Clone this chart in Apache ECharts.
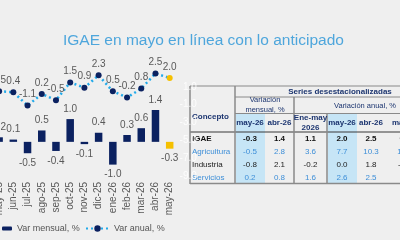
<!DOCTYPE html>
<html lang="es">
<head>
    <meta charset="UTF-8">
    <title>IGAE</title>
    <style>
        html, body { margin: 0; padding: 0; background: #efefef; overflow: hidden; }
        /* la grafica original esta recortada por la izquierda */
        #chart { position: absolute; left: -8px; top: 0; width: 408px; height: 240px; }
    </style>
    <script src="https://cdn.jsdelivr.net/npm/echarts@6/dist/echarts.min.js"></script>
</head>
<body>
<div id="chart"></div>
<script>
    // datos de la grafica
    var months = ['may-25','jun-25','jul-25','ago-25','sep-25','oct-25','nov-25','dic-25','ene-26','feb-26','mar-26','abr-26','may-26'];
    var varMensual = [0.2, 0.1, -0.5, 0.5, -0.4, 1.0, -0.1, 0.4, -1.0, 0.3, 0.6, 1.4, -0.3];
    var varAnual = [0.5, 0.4, -1.1, 0.2, -0.5, 1.5, 0.9, 2.3, 0.5, -0.2, 0.8, 2.5, 2.0];

    // datos de la tabla
    var conceptos = ['IGAE', 'Agricultura', 'Industria', 'Servicios'];
    var colHeaders = ['may-26', 'abr-26', 'Ene-may\n2026', 'may-26', 'abr-26', 'mar-26'];
    var rowIGAE = ['-0.3', '1.4', '1.1', '2.0', '2.5', '0.8'];
    var rowAgricultura = ['-0.5', '2.8', '3.6', '7.7', '10.3', '12.5'];
    var rowIndustria = ['-0.8', '2.1', '-0.2', '0.0', '1.8', '-1.2'];
    var rowServicios = ['0.2', '0.8', '1.6', '2.6', '2.5', '1.9'];

    var OFF = 8; // desplazamiento del contenedor
    var navy = '#0b2160';
    var yellow = '#f5c000';
    var narrow = '"Liberation Sans Narrow", "Liberation Sans", Arial, sans-serif';
    var last = months.length - 1;

    var barData = varMensual.map(function (v, i) {
        return i === last ? { value: v, itemStyle: { color: yellow } } : v;
    });
    var lineData = varAnual.map(function (v, i) {
        return i === last ? { value: v, itemStyle: { color: yellow } } : v;
    });

    // tabla dibujada con graphic
    var tbl = [];
    var lineC = '#8a8a8a';
    function hline(x1, x2, y, w, c) {
        tbl.push({ type: 'line', shape: { x1: x1 + OFF, y1: y, x2: x2 + OFF, y2: y }, style: { stroke: c || lineC, lineWidth: w || 1 } });
    }
    function vline(x, y1, y2, w, c) {
        tbl.push({ type: 'line', shape: { x1: x + OFF, y1: y1, x2: x + OFF, y2: y2 }, style: { stroke: c || lineC, lineWidth: w || 1 } });
    }
    function txt(s, x, y, color, size, bold, align) {
        tbl.push({ type: 'text', x: x + OFF, y: y, style: {
            text: s, fill: color, align: align || 'center', verticalAlign: 'middle',
            font: (bold ? 'bold ' : '') + size + 'px ' + narrow, lineHeight: size + 2
        } });
    }
    var colX = [250, 279.5, 310.5, 342, 371, 405];
    var rowY = [138.5, 151.5, 164.5, 177.5];
    var hdr = '#1c3570';
    var blueTxt = '#3e8fd8';

    tbl.push({ type: 'rect', shape: { x: 236 + OFF, y: 114, width: 29, height: 69 }, style: { fill: '#c6e5f6' } });
    tbl.push({ type: 'rect', shape: { x: 328 + OFF, y: 114, width: 29, height: 69 }, style: { fill: '#c6e5f6' } });
    hline(190, 400, 86, 1.2);
    hline(235, 400, 97, 1);
    hline(235, 400, 113.5, 1);
    hline(190, 400, 132, 1.2, '#3a3a3a');
    hline(190, 400, 183.5, 1.5);
    vline(190, 86, 184, 1.5);
    vline(235, 86, 184, 1.5);
    vline(294, 97, 184, 1.5);
    vline(327, 113, 184, 1.5);

    txt('Series desestacionalizadas', 340, 92, hdr, 8, true);
    txt('Variación\nmensual, %', 265, 105, hdr, 7.5, false);
    txt('Variación anual, %', 365, 106, hdr, 7.5, false);
    txt('Concepto', 192, 117, hdr, 8, true, 'left');
    colHeaders.forEach(function (h, i) {
        txt(h, colX[i], 123, hdr, 8, true);
    });
    var rows = [rowIGAE, rowAgricultura, rowIndustria, rowServicios];
    var rowColors = ['#111111', blueTxt, '#222222', blueTxt];
    conceptos.forEach(function (c, r) {
        txt(c, 192, rowY[r], rowColors[r], 8, r === 0, 'left');
        rows[r].forEach(function (v, i) {
            txt(v, colX[i], rowY[r], rowColors[r], 8, r === 0);
        });
    });

    var chart = echarts.init(document.getElementById('chart'));
    chart.setOption({
        backgroundColor: '#efefef',
        animation: false,
        title: {
            text: 'IGAE en mayo en línea con lo anticipado',
            left: 63 + OFF - 5,
            top: 28,
            textStyle: { color: '#4ea6dc', fontSize: 15.5, fontWeight: 'normal', fontFamily: 'Liberation Sans' }
        },
        legend: [{
            left: OFF - 3,
            top: 219,
            itemWidth: 10,
            itemHeight: 4,
            data: ['Var mensual, %'],
            textStyle: { color: '#555', fontSize: 9, fontFamily: 'Liberation Sans' }
        }, {
            left: OFF + 80,
            top: 219,
            itemWidth: 23,
            itemHeight: 8,
            data: ['Var anual, %'],
            textStyle: { color: '#555', fontSize: 9, fontFamily: 'Liberation Sans' }
        }],
        grid: { left: 0, right: 223.2, top: 69, bottom: 64, containLabel: false },
        xAxis: {
            type: 'category',
            data: months,
            axisLine: { show: false },
            axisTick: { show: false },
            axisLabel: { rotate: 90, margin: 6, color: '#595959', fontSize: 10, fontFamily: narrow, interval: 0 }
        },
        yAxis: [{
            type: 'value',
            min: -1.5,
            max: 3.2,
            show: false,
            splitLine: { show: false }
        }, {
            type: 'value',
            position: 'right',
            min: -9,
            max: 3,
            interval: 2,
            z: 10,
            axisLine: { show: false },
            axisTick: { show: false },
            splitLine: { show: false },
            axisLabel: {
                showMaxLabel: false,
                margin: 20,
                align: 'right',
                color: 'rgba(255,255,255,0.85)',
                fontSize: 10,
                fontFamily: narrow,
                formatter: function (v) { return v.toFixed(1); }
            }
        }],
        graphic: { elements: tbl },
        series: [{
            name: 'Var mensual, %',
            type: 'bar',
            yAxisIndex: 0,
            data: barData,
            barWidth: 7.5,
            itemStyle: { color: navy },
            label: {
                show: true,
                position: 'outside',
                distance: 5,
                color: '#595959',
                fontSize: 10,
                fontFamily: narrow,
                formatter: function (p) { return p.value.toFixed(1); }
            }
        }, {
            name: 'Var anual, %',
            type: 'line',
            yAxisIndex: 1,
            data: lineData,
            symbol: 'circle',
            symbolSize: 6,
            itemStyle: { color: navy },
            lineStyle: { color: '#22aaea', width: 2.5, type: [2, 3] },
            label: {
                show: true,
                position: 'top',
                distance: 3,
                color: '#595959',
                fontSize: 10,
                fontFamily: narrow,
                formatter: function (p) { return p.value.toFixed(1); }
            }
        }]
    });
</script>
</body>
</html>
